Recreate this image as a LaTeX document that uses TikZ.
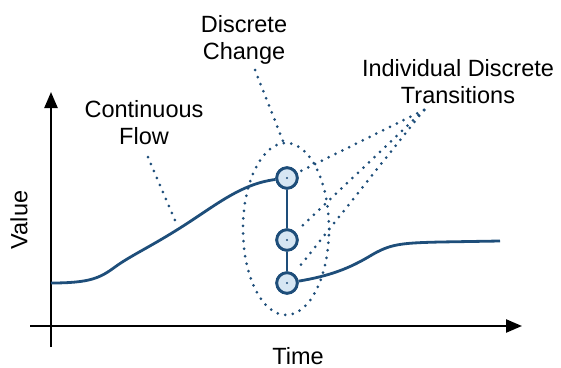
\documentclass[tikz,border=0pt]{standalone}
\usepackage{fontspec}
\setmainfont{Liberation Sans}
\usepackage{xcolor}
\usepackage{tikz}
\usetikzlibrary{arrows.meta,positioning,calc,shapes.geometric}
\definecolor{flowblue}{RGB}{30,78,122}
\definecolor{statefill}{RGB}{214,230,243}

\begin{document}
\begin{tikzpicture}[
    x=1pt, y=-1pt,
    lbl/.style={align=center, inner sep=0pt, font=\fontsize{23.5}{27}\selectfont},
    axis/.style={-{Triangle[length=16pt, width=13pt]}, line width=2.3pt},
    flowline/.style={draw=flowblue, line width=2.8pt},
    statenode/.style={circle, draw=flowblue, fill=statefill, line width=2.8pt, minimum size=20.5pt, inner sep=0pt,
        path picture={\fill[flowblue] (path picture bounding box.center) circle (1.1pt);}},
    dotline/.style={draw=flowblue, line width=3pt, line cap=round, dash pattern=on 0pt off 7.6pt}
]
\useasboundingbox (0,0) rectangle (561,367);
\coordinate (ybot) at (51,347);
\coordinate (ytop) at (51,92);
\coordinate (xleft) at (30,326);
\coordinate (xright) at (522,326);
\draw[axis] (ybot) -- (ytop);
\draw[axis] (xleft) -- (xright);
\node[lbl, rotate=90] (value) at (19,220) {Value};
\node[lbl] (time) at (298,356) {Time};
\node[lbl] (flowlbl) at (144,123) {Continuous\\Flow};
\node[lbl] (changelbl) at (244,40) {Discrete\\Change};
\node[lbl] (translbl) at (458,82) {Individual Discrete\\Transitions};
\node[ellipse, dotline, minimum width=86pt, minimum height=172pt] (grp) at (286,229) {};
\node[statenode] (s1) at (287,178) {};
\node[statenode] (s2) at (287,240) {};
\node[statenode] (s3) at (287,283) {};
\coordinate (flowtip) at (148,157);
\coordinate (flowhit) at (177,225);
\coordinate (changetip) at (255,70);
\coordinate (changehit) at (283,141);
\coordinate (transtip) at (424,110);
\coordinate (t1) at (299,172);
\coordinate (t2) at (302,226);
\coordinate (t3) at (300,266);
\draw[dotline] (flowtip) -- (flowhit);
\draw[dotline] (changetip) -- (changehit);
\draw[dotline] (transtip) -- (t1);
\draw[dotline] (transtip) -- (t2);
\draw[dotline] (transtip) -- (t3);
\coordinate (fstart) at (51,283);
\coordinate (fend) at (500,241);
\draw[flowline] (fstart) .. controls (90,283) and (100,278) .. (115,267)
    .. controls (130,256) and (150,247) .. (180,228)
    .. controls (215,206) and (240,184) .. (s1);
\draw[flowline] (s3) .. controls (330,276) and (350,268) .. (370,256)
    .. controls (390,244) and (400,243) .. (440,242)
    .. controls (470,241) .. (fend);
\draw[flowline] (s1) -- (s2);
\draw[flowline] (s2) -- (s3);
\node[statenode] at (s1) {};
\node[statenode] at (s2) {};
\node[statenode] at (s3) {};
\end{tikzpicture}
\end{document}
